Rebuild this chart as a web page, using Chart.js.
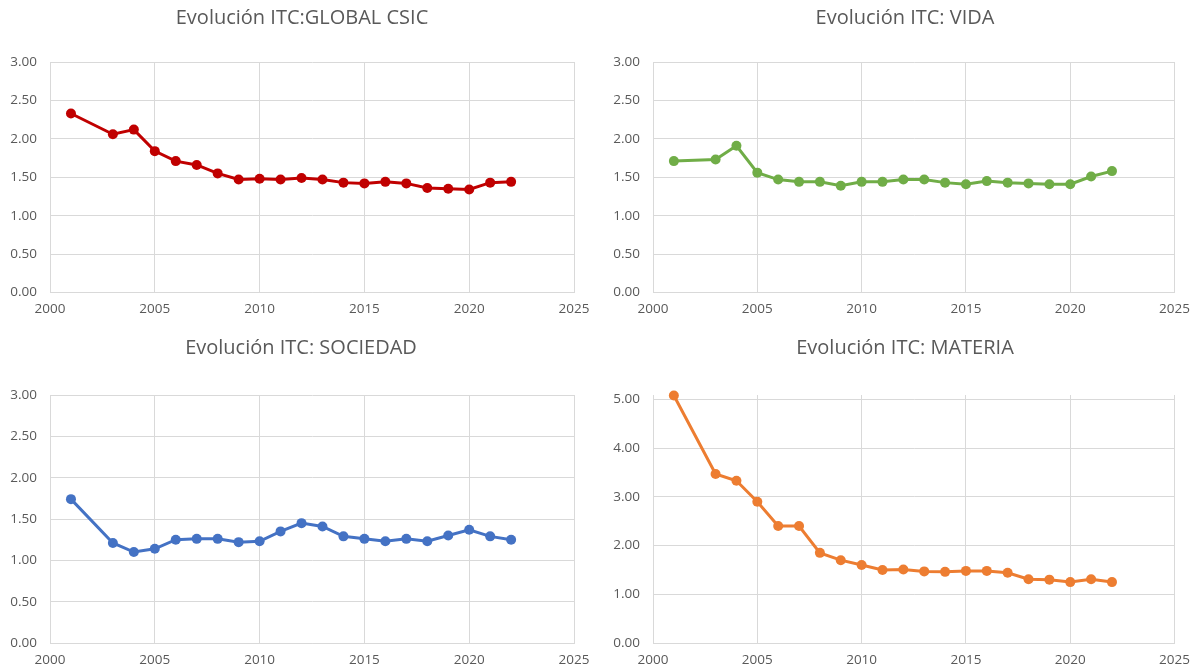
<!DOCTYPE html>
<html>
<head>
<meta charset="utf-8">
<script src="https://cdn.jsdelivr.net/npm/chart.js@4.4.1/dist/chart.umd.min.js"></script>
<style>
  html, body { margin: 0; padding: 0; background: #ffffff; }
  .box { position: absolute; }
  #b1 { left: 0; top: 0; width: 600px; height: 330px; }
  #b2 { left: 600px; top: 0; width: 599px; height: 330px; }
  #b3 { left: 0; top: 330px; width: 600px; height: 341px; }
  #b4 { left: 600px; top: 330px; width: 599px; height: 341px; }
</style>
</head>
<body>
<div class="box" id="b1"><canvas id="c1"></canvas></div>
<div class="box" id="b2"><canvas id="c2"></canvas></div>
<div class="box" id="b3"><canvas id="c3"></canvas></div>
<div class="box" id="b4"><canvas id="c4"></canvas></div>
<script>
// years (2002 missing in the source)
const years = [2001, 2003, 2004, 2005, 2006, 2007, 2008, 2009, 2010, 2011, 2012,
               2013, 2014, 2015, 2016, 2017, 2018, 2019, 2020, 2021, 2022];

const globalCsic = [2.33, 2.06, 2.12, 1.84, 1.71, 1.66, 1.55, 1.47, 1.48, 1.47, 1.49,
                    1.47, 1.43, 1.42, 1.44, 1.42, 1.36, 1.35, 1.34, 1.43, 1.44];
const vida = [1.71, 1.73, 1.91, 1.56, 1.47, 1.44, 1.44, 1.39, 1.44, 1.44, 1.47,
              1.47, 1.43, 1.41, 1.45, 1.43, 1.42, 1.41, 1.41, 1.51, 1.58];
const sociedad = [1.74, 1.21, 1.10, 1.14, 1.25, 1.26, 1.26, 1.22, 1.23, 1.35, 1.45,
                  1.41, 1.29, 1.26, 1.23, 1.26, 1.23, 1.30, 1.37, 1.29, 1.25];
const materia = [5.08, 3.47, 3.33, 2.90, 2.40, 2.40, 1.85, 1.70, 1.60, 1.50, 1.51,
                 1.47, 1.46, 1.48, 1.48, 1.44, 1.31, 1.30, 1.25, 1.31, 1.25];

const titles = ['Evolución ITC:GLOBAL CSIC', 'Evolución ITC: VIDA',
                'Evolución ITC: SOCIEDAD', 'Evolución ITC: MATERIA'];

const textColor = '#595959';
const gridColor = '#d9d9d9';
const fontFamily = "'Open Sans', sans-serif";

function makeChart(id, title, values, color, opts) {
    const ctx = document.getElementById(id).getContext('2d');
    return new Chart(ctx, {
        type: 'line',
        data: {
            datasets: [{
                data: years.map((y, i) => ({ x: y, y: values[i] })),
                borderColor: color,
                backgroundColor: color,
                borderWidth: 3,
                pointRadius: 5,
                pointBorderWidth: 0,
                pointBackgroundColor: color,
                tension: 0,
                clip: false
            }]
        },
        options: {
            responsive: true,
            maintainAspectRatio: false,
            animation: false,
            layout: { padding: { left: opts.padLeft, right: 0, top: 0, bottom: 0 } },
            plugins: {
                legend: { display: false },
                tooltip: { enabled: false },
                title: {
                    display: true,
                    text: title,
                    color: textColor,
                    font: { family: fontFamily, size: 20, weight: 'normal' },
                    padding: { top: 6, bottom: opts.titleBottom }
                }
            },
            scales: {
                x: {
                    type: 'linear',
                    min: 2000,
                    max: 2025,
                    grid: { color: gridColor, lineWidth: 1, drawTicks: false },
                    border: { color: gridColor, width: 1 },
                    ticks: {
                        stepSize: 5,
                        color: textColor,
                        padding: 9,
                        font: { family: fontFamily, size: 13.5 },
                        callback: v => String(v)
                    },
                    afterFit: s => { s.height = opts.xHeight; }
                },
                y: {
                    min: 0,
                    max: opts.yMax,
                    grid: { color: gridColor, lineWidth: 1, drawTicks: false },
                    border: { color: gridColor, width: 1 },
                    ticks: {
                        stepSize: opts.yStep,
                        includeBounds: false,
                        color: textColor,
                        padding: 13,
                        font: { family: fontFamily, size: 13.5 },
                        callback: v => v.toFixed(2)
                    },
                    afterFit: s => { s.width = opts.yWidth; }
                },
                // empty right-hand axis only reserves the margin right of the plot
                yRight: {
                    position: 'right',
                    grid: { display: false, drawTicks: false },
                    border: { display: false },
                    ticks: { display: false },
                    afterFit: s => { s.width = opts.rightGap; }
                }
            }
        }
    });
}

makeChart('c1', titles[0], globalCsic, '#c00000',
    { padLeft: 4, yWidth: 46, rightGap: 26, xHeight: 37.5, titleBottom: 32, yMax: 3, yStep: 0.5 });
makeChart('c2', titles[1], vida, '#70ad47',
    { padLeft: 11, yWidth: 42, rightGap: 23, xHeight: 37.5, titleBottom: 32, yMax: 3, yStep: 0.5 });
makeChart('c3', titles[2], sociedad, '#4472c4',
    { padLeft: 2, yWidth: 48, rightGap: 26, xHeight: 28, titleBottom: 35, yMax: 3, yStep: 0.5 });
makeChart('c4', titles[3], materia, '#ed7d31',
    { padLeft: 11, yWidth: 42, rightGap: 23, xHeight: 28, titleBottom: 35, yMax: 5.09, yStep: 1 });
</script>
</body>
</html>
